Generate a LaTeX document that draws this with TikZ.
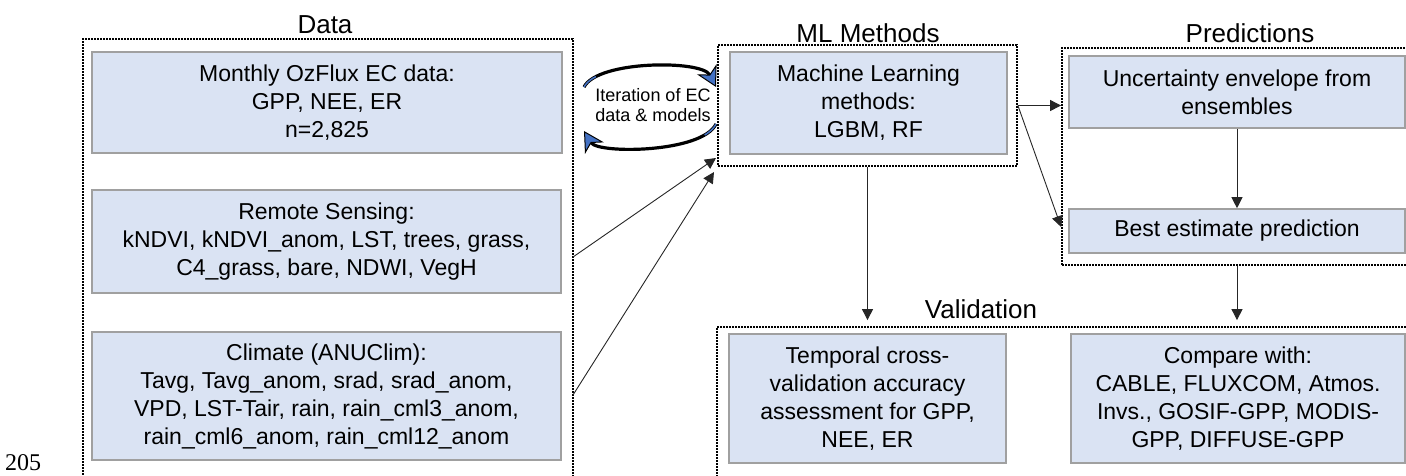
\documentclass[tikz,border=0pt]{standalone}
\usepackage{fontspec}
\setmainfont{Liberation Sans}
\newfontfamily\serifnum{Liberation Serif}
\usetikzlibrary{arrows.meta,calc}
\definecolor{boxfill}{RGB}{218,227,243}
\definecolor{boxline}{RGB}{160,160,160}
\definecolor{arrblue}{RGB}{68,114,196}
\tikzset{
  frame/.style={draw=black, line width=1.8pt, dash pattern=on 1.6pt off 1.4pt, inner sep=0pt},
  box/.style={draw=boxline, line width=1.6pt, fill=boxfill, inner sep=0pt, align=center,
    font=\fontsize{23}{28}\selectfont},
  ttl/.style={font=\fontsize{26}{30}\selectfont, anchor=base, inner sep=0pt},
  conn/.style={draw=black!85, line width=0.9pt, -{Triangle[length=11pt,width=11pt]}},
  itarc/.style={draw=black, line width=3.2pt, -{Stealth[length=20pt,width=22pt,inset=6pt,fill=arrblue,line width=1pt]}},
  itcore/.style={draw=arrblue, line width=1.5pt, dash pattern=on 16pt off 200pt}
}
\begin{document}
\begin{tikzpicture}[x=1pt,y=-1pt]
\useasboundingbox (0,0) rectangle (1406,475);

% frames
\node[frame, minimum width=490pt, minimum height=461pt] (dataF) at (328,269.5) {};
\node[frame, minimum width=299pt, minimum height=121pt] (mlF) at (867.5,105.5) {};
\node[frame, minimum width=360pt, minimum height=217pt] (predF) at (1242,156.5) {};
\node[frame, minimum width=705pt, minimum height=173pt] (valF) at (1069.5,413.5) {};

% titles
\node[ttl] (tData) at (325,33) {Data};
\node[ttl] (tML) at (868,42) {ML Methods};
\node[ttl] (tPred) at (1250,42) {Predictions};
\node[ttl] (tVal) at (981,318) {Validation};

% data boxes
\node[box, minimum width=470pt, minimum height=101pt] (ec) at (327,102.5)
  {Monthly OzFlux EC data:\\GPP, NEE, ER\\n=2,825};
\node[box, minimum width=469pt, minimum height=103pt] (rs) at (326.5,241.5)
  {Remote Sensing:\\kNDVI, kNDVI\_anom, LST, trees, grass,\\C4\_grass, bare, NDWI, VegH};
\node[box, minimum width=469pt, minimum height=128pt] (cl) at (326.5,396)
  {Climate (ANUClim):\\Tavg, Tavg\_anom, srad, srad\_anom,\\VPD, LST-Tair, rain, rain\_cml3\_anom,\\rain\_cml6\_anom, rain\_cml12\_anom};

% ML box
\node[box, minimum width=277pt, minimum height=102pt] (ml) at (868.5,103)
  {Machine Learning\\methods:\\LGBM, RF};

% predictions
\node[box, minimum width=336pt, minimum height=72pt] (unc) at (1237,92)
  {Uncertainty envelope from\\ensembles};
\node[box, minimum width=336pt, minimum height=44pt] (best) at (1237,231)
  {Best estimate prediction};

% validation
\node[box, minimum width=277pt, minimum height=129pt] (tcv) at (867.5,398.5)
  {Temporal cross-\\validation accuracy\\assessment for GPP,\\NEE, ER};
\node[box, minimum width=334pt, minimum height=129pt] (cmp) at (1238,398.5)
  {Compare with:\\CABLE, FLUXCOM, Atmos.\\Invs., GOSIF-GPP, MODIS-\\GPP, DIFFUSE-GPP};

% iteration
\node[font=\fontsize{18}{20}\selectfont, align=center, inner sep=0pt] (iter) at (653,105)
  {Iteration of EC\\data \& models};
\coordinate (itTL) at (584,87);
\coordinate (itTR) at (716,87);
\coordinate (itBR) at (716,124);
\coordinate (itBL) at (584,131);
\draw[itcore] (itTL) .. controls (598,60) and (702,60) .. (itTR);
\draw[itcore] (itBR) .. controls (702,153) and (598,154) .. (itBL);
\draw[itarc] (itTL) .. controls (598,60) and (702,60) .. (itTR);
\draw[itarc] (itBR) .. controls (702,153) and (598,154) .. (itBL);
\draw[itcore] (itTL) .. controls (598,60) and (702,60) .. (itTR);
\draw[itcore] (itBR) .. controls (702,153) and (598,154) .. (itBL);

% connectors
\coordinate (rsOut) at (573,257);
\coordinate (clOut) at (573,395);
\coordinate (mlIn1) at (716,158);
\coordinate (mlIn2) at (714,172);
\draw[conn] (rsOut) -- (mlIn1);
\draw[conn] (clOut) -- (mlIn2);
\draw[conn] (mlF.east) -- (mlF.east -| predF.west);
\draw[conn] (mlF.east) -- ($(predF.west |- best.west)+(0,-4)$);
\draw[conn] (unc.south) -- (best.north);
\draw[conn, shorten >=6pt] (mlF.south) -- (mlF.south |- valF.north);
\draw[conn, shorten >=6pt] (best.south |- predF.south) -- (best.south |- valF.north);

% page number
\node[font=\serifnum\fontsize{24}{26}\selectfont, anchor=base west, inner sep=0pt] (pg) at (5,470) {205};
\end{tikzpicture}
\end{document}
